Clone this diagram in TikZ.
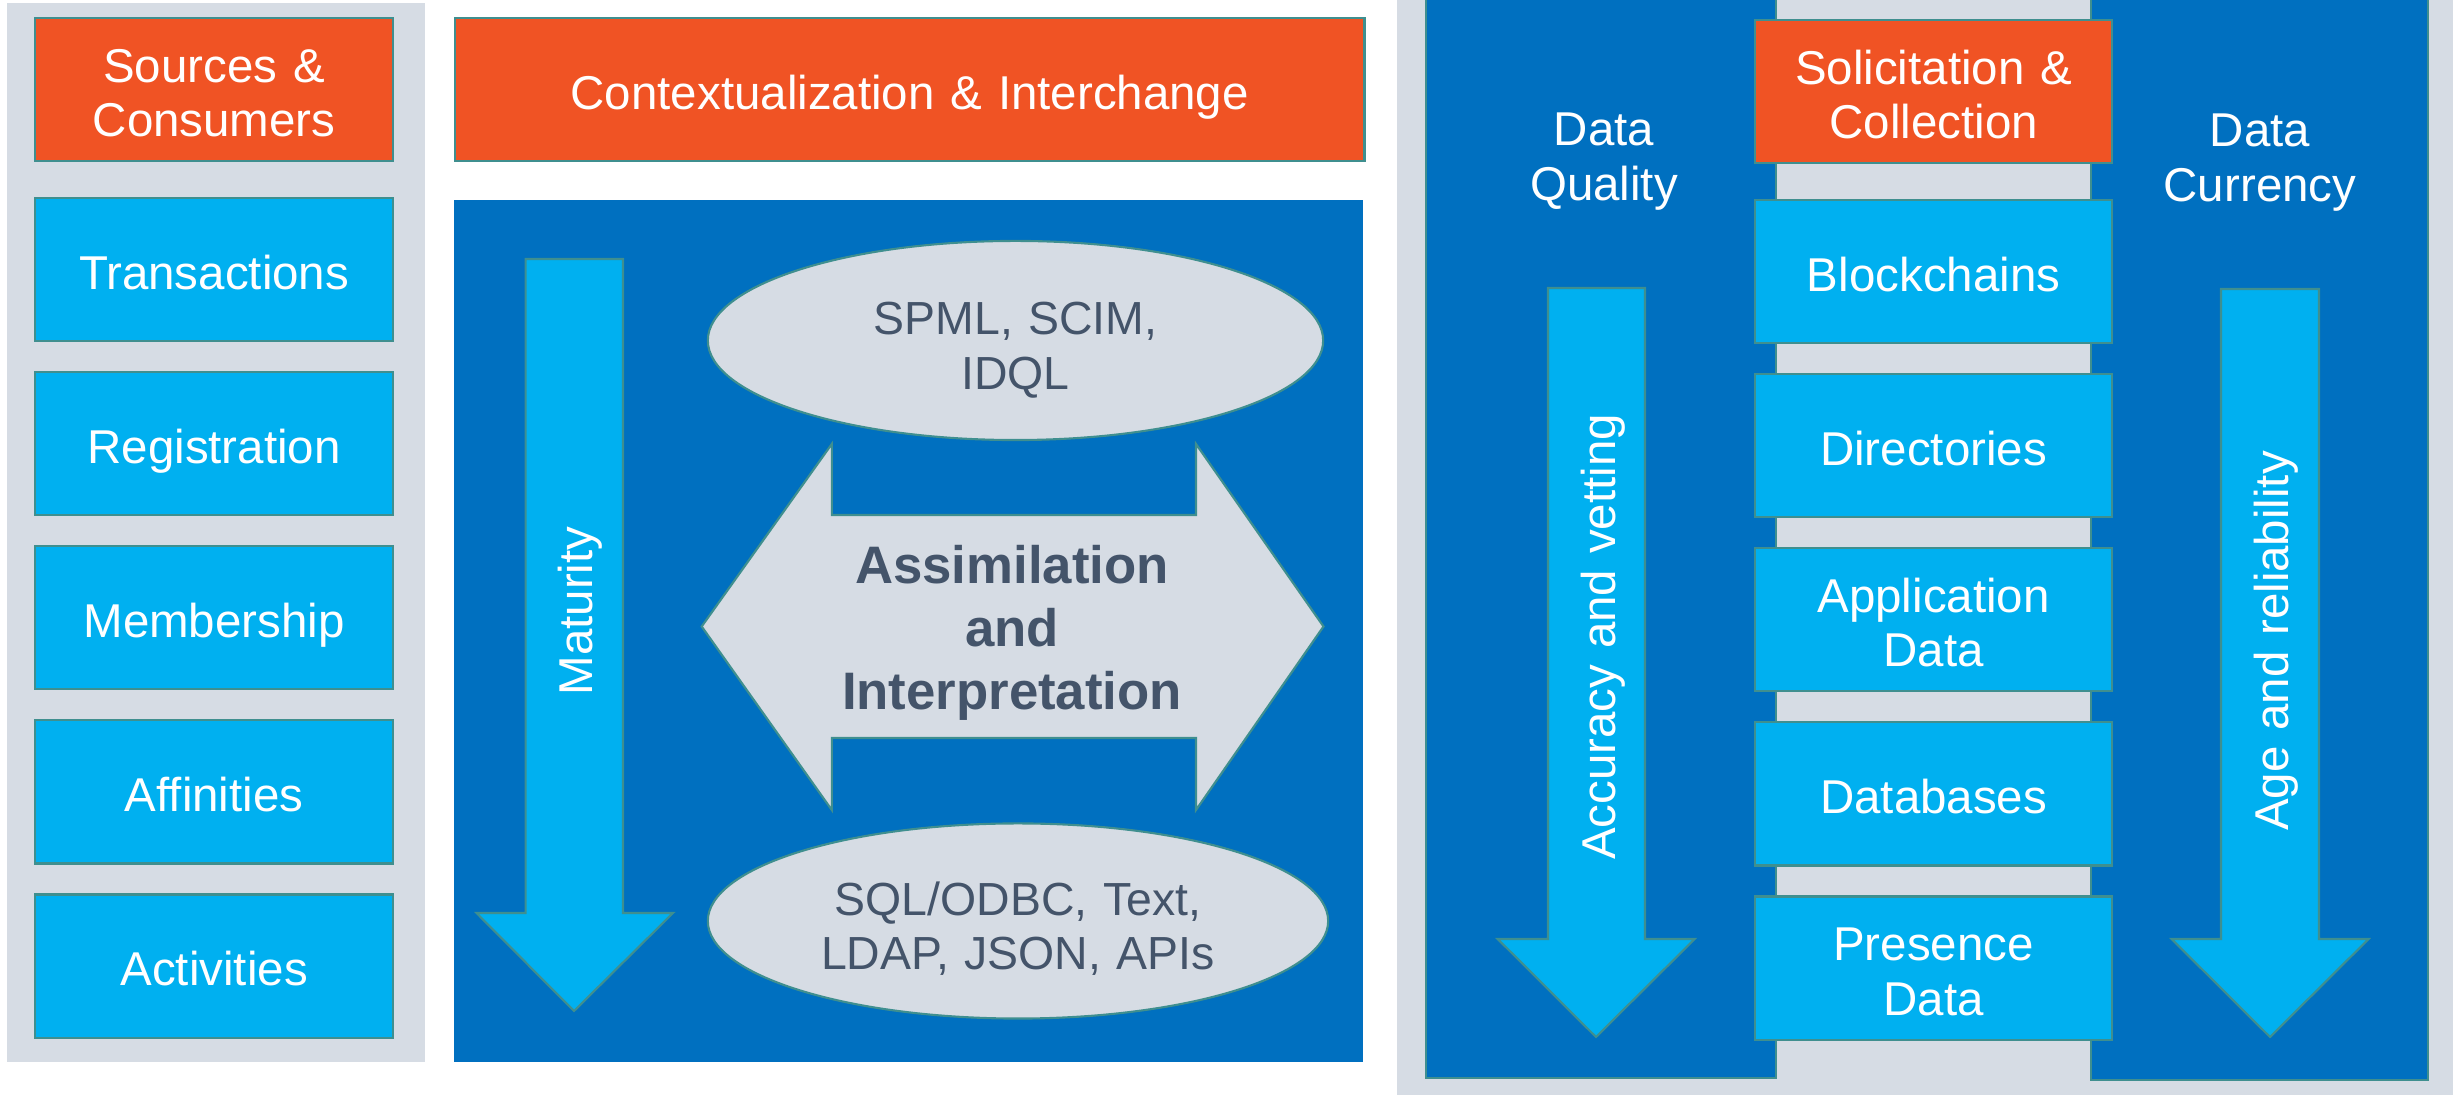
\documentclass[tikz,border=0pt]{standalone}
\usepackage{fontspec}
\setmainfont{Liberation Sans}
\usetikzlibrary{positioning,shapes.geometric}

\definecolor{slideorange}{HTML}{F05324}
\definecolor{slidecyan}{HTML}{00B0F0}
\definecolor{slideblue}{HTML}{0070C0}
\definecolor{slidegray}{HTML}{D6DCE4}
\definecolor{slideedge}{HTML}{3F8F8F}
\definecolor{slidetext}{HTML}{44546A}

\begin{document}
\begin{tikzpicture}[
    x = 0.01cm, y = -0.01cm, % one unit per pixel of the slide
    node distance = 0.31cm, % gap between stacked boxes
    line width = 0.6pt, % outline of boxes and arrows
    ]

    % first line sits a little low in its box, like on the slide
    \tikzset{every node/.style={font=\fontsize{13.5}{15.4}\selectfont, align=center, text width=3.4cm,
        inner sep=0pt, outer sep=0pt,
        execute at begin node={\rule{0pt}{1.05em}}, execute at end node={\rule[-0.21em]{0pt}{0pt}}}}
    \tikzset{headbox/.style={draw=slideedge, fill=slideorange, text=white, minimum height=1.43cm}}
    \tikzset{itembox/.style={draw=slideedge, fill=slidecyan, text=white, minimum width=3.58cm, minimum height=1.43cm}}
    \tikzset{bubble/.style={ellipse, draw=slideedge, fill=slidegray, text=slidetext, text width=4.1cm,
        font=\fontsize{13.2}{15.5}\selectfont, execute at begin node={\rule{0pt}{1.14em}}}}
    \tikzset{blockarrow/.style={draw=slideedge, fill=slidecyan}}
    \tikzset{arrowlabel/.style={text=white, rotate=90, text width=6cm}}

    \useasboundingbox (0,0) rectangle (2453,1095);

    % panels
    \fill[slidegray] (7,3) rectangle (425,1062);
    \fill[slideblue] (454,200) rectangle (1363,1062);
    \fill[slidegray] (1397,0) rectangle (2453,1095);
    \filldraw[fill=slideblue, draw=slideedge] (1426,-5) rectangle (1776,1078);
    \filldraw[fill=slideblue, draw=slideedge] (2091,-5) rectangle (2428,1080);

    % sources and consumers
    \node[headbox, minimum width=3.58cm, anchor=north west] (sources) at (35,18) {Sources \&\\Consumers};
    \node[itembox] (transactions) [below=0.37cm of sources] {Transactions};
    \node[itembox] (registration) [below=of transactions] {Registration};
    \node[itembox] (membership) [below=of registration] {Membership};
    \node[itembox] (affinities) [below=of membership] {Affinities};
    \node[itembox] (activities) [below=of affinities] {Activities};

    % contextualization and interchange
    \node[headbox, minimum width=9.09cm, text width=8cm, anchor=north west] (context) at (455,18) {Contextualization \& Interchange};

    \filldraw[blockarrow] (525.6,259) -- (623,259) -- (623,913) -- (673,913)
        -- (574,1011) -- (476.5,913) -- (525.6,913) -- cycle;
    \node[arrowlabel] (maturity) at (573,611) {Maturity};

    \node[bubble, minimum width=6.15cm, minimum height=1.99cm] (spml) at (1015.5,340.5) {SPML, SCIM,\\IDQL};
    \filldraw[draw=slideedge, fill=slidegray] (701.7,626.5) -- (831.8,444) -- (831.8,515)
        -- (1196,515) -- (1196,444) -- (1323.5,626.5) -- (1196,810) -- (1196,738)
        -- (831.8,738) -- (831.8,810) -- cycle;
    \node[text=slidetext, text width=4cm, font=\bfseries\fontsize{15}{17.9}\selectfont] (assimilation) at (1012,624) {Assimilation\\and\\Interpretation};
    \node[bubble, minimum width=6.2cm, minimum height=1.95cm] (sql) at (1018,921) {SQL/ODBC, Text,\\LDAP, JSON, APIs};

    % data quality and data currency
    \node[text=white] (quality) at (1604,153) {Data\\Quality};
    \node[text=white] (currency) at (2260,154) {Data\\Currency};

    \filldraw[blockarrow] (1548,288) -- (1645,288) -- (1645,939) -- (1694.7,939)
        -- (1596,1037) -- (1497.7,939) -- (1548,939) -- cycle;
    \node[arrowlabel] (accuracy) at (1596,637) {Accuracy and vetting};

    \filldraw[blockarrow] (2221,289) -- (2319,289) -- (2319,939) -- (2368.6,939)
        -- (2270,1037) -- (2171.6,939) -- (2221,939) -- cycle;
    \node[arrowlabel] (age) at (2269,641) {Age and reliability};

    % solicitation and collection
    \node[headbox, minimum width=3.57cm, anchor=north west] (solicitation) at (1755,20) {Solicitation \&\\Collection};
    \node[itembox, minimum width=3.57cm] (blockchains) [below=0.37cm of solicitation] {Blockchains};
    \node[itembox, minimum width=3.57cm] (directories) [below=of blockchains] {Directories};
    \node[itembox, minimum width=3.57cm] (application) [below=of directories] {Application\\Data};
    \node[itembox, minimum width=3.57cm] (databases) [below=of application] {Databases};
    \node[itembox, minimum width=3.57cm] (presence) [below=of databases] {Presence\\Data};
\end{tikzpicture}
\end{document}
